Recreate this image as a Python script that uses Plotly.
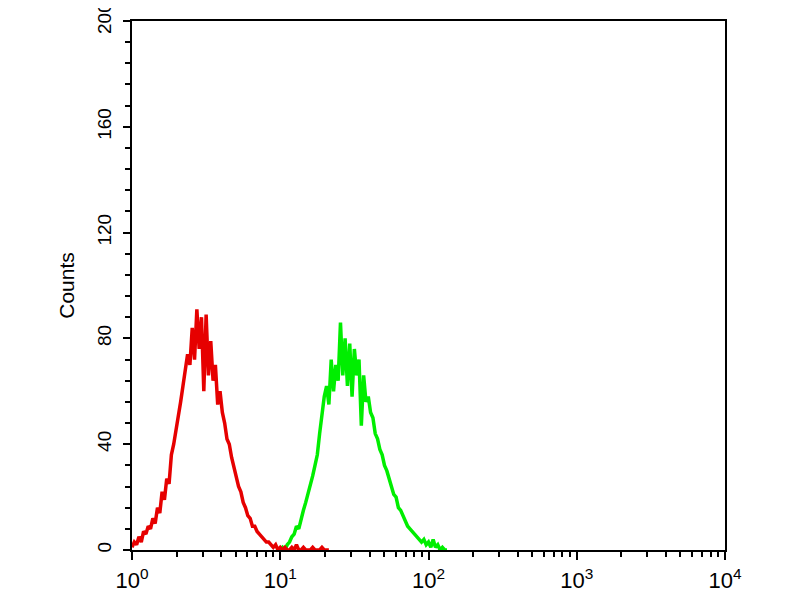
import plotly.graph_objects as go

# Histogram counts per log channel (64 channels per decade, channel 0 = 10^0)
red_start_channel = 0
red_counts = [
    1, 3, 2, 5, 3, 7, 6, 9, 8, 12, 10, 16, 14, 22, 19, 27,
    25, 36, 40, 45, 50, 56, 62, 68, 74, 70, 84, 72, 91, 76, 88, 60,
    89, 66, 79, 64, 70, 55, 60, 52, 48, 42, 40, 35, 31, 28, 24, 22,
    18, 16, 13, 12, 9, 9, 7, 6, 5, 4, 3, 3, 2, 1, 2, 0,
    1, 0, 1, 0, 0, 1, 0, 2, 0, 0, 1, 0, 0, 0, 1, 0, 0, 0, 1, 0, 0, 0,
]

green_start_channel = 64
green_counts = [
    0, 1, 0, 2, 3, 5, 6, 9, 8, 12, 15, 18, 21, 24, 28, 32,
    36, 44, 52, 58, 62, 55, 72, 60, 70, 64, 86, 66, 80, 62, 78, 58,
    76, 66, 72, 47, 66, 56, 58, 52, 50, 44, 42, 38, 36, 32, 30, 27,
    25, 21, 20, 16, 15, 13, 11, 9, 8, 7, 6, 5, 4, 3, 4, 2,
    3, 1, 4, 1, 2, 0, 1, 0, 0,
]

channels_per_decade = 64

x_tickvals = [1, 10, 100, 1000, 10000]
x_ticktext = ["10<sup>0</sup>", "10<sup>1</sup>", "10<sup>2</sup>", "10<sup>3</sup>", "10<sup>4</sup>"]
x_minor_digits = [2, 3, 4, 5, 6, 7, 8, 9]
y_tickvals = [0, 40, 80, 120, 160, 200]


def channel_to_value(start, n):
    return [10 ** ((start + i) / channels_per_decade) for i in range(n)]


x_minor_vals = [d * decade for decade in x_tickvals[:-1] for d in x_minor_digits]

fig = go.Figure()

fig.add_trace(go.Scatter(
    x=channel_to_value(green_start_channel, len(green_counts)),
    y=green_counts,
    mode="lines",
    line=dict(color="#00ee00", width=3.5),
    name="green",
))

fig.add_trace(go.Scatter(
    x=channel_to_value(red_start_channel, len(red_counts)),
    y=red_counts,
    mode="lines",
    line=dict(color="#e60000", width=3.5),
    name="red",
))

axis_font = dict(family="Liberation Sans, Arial, sans-serif", color="black")

fig.update_layout(
    width=800,
    height=600,
    margin=dict(l=124, r=83, t=13, b=58),
    showlegend=False,
    plot_bgcolor="white",
    paper_bgcolor="white",
    xaxis=dict(
        type="log",
        range=[0, 4],
        tickvals=x_tickvals,
        ticktext=x_ticktext,
        ticks="outside",
        ticklen=8,
        tickwidth=2,
        tickcolor="black",
        tickfont=dict(size=22, **axis_font),
        ticklabelstandoff=2,
        ticklabeloverflow="allow",
        showline=True,
        linecolor="black",
        linewidth=2,
        mirror=True,
        showgrid=False,
        zeroline=False,
        automargin=False,
        minor=dict(tickvals=x_minor_vals, ticks="outside", ticklen=5, tickwidth=2,
                   tickcolor="black", showgrid=False),
    ),
    yaxis=dict(
        range=[0, 200],
        tickvals=y_tickvals,
        ticks="outside",
        ticklen=7,
        tickwidth=2,
        tickcolor="black",
        tickangle=-90,
        tickfont=dict(size=19, **axis_font),
        ticklabelstandoff=4,
        ticklabeloverflow="allow",
        showline=True,
        linecolor="black",
        linewidth=2,
        mirror=True,
        showgrid=False,
        zeroline=False,
        automargin=False,
        title=dict(text="Counts", font=dict(size=21, **axis_font), standoff=14),
        minor=dict(dtick=8, ticks="outside", ticklen=5, tickwidth=2, tickcolor="black", showgrid=False),
    ),
)

fig.write_html("out.html")
